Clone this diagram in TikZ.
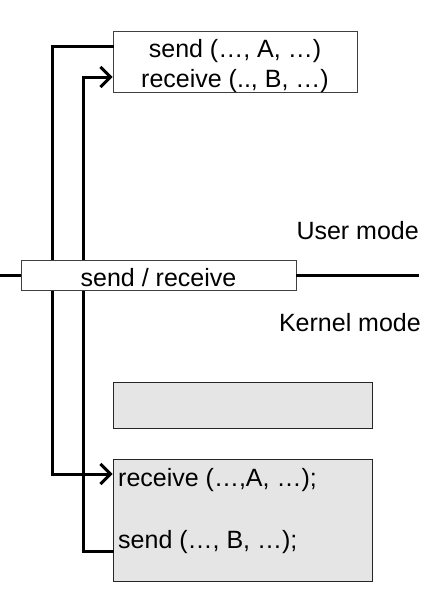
\documentclass[tikz,border=0pt]{standalone}
\usepackage{fontspec}
\setmainfont{Liberation Sans}
\usetikzlibrary{arrows.meta}
\begin{document}
\begin{tikzpicture}[
	x=1pt, y=-1pt,
	every node/.style={font=\fontsize{25}{30}\selectfont, inner sep=0pt},
	userbox/.style={shape=rectangle, fill=white, draw=black!75, line width=0.8pt},
	kernelbox/.style={shape=rectangle, fill=black!10, draw=black!85, line width=0.8pt},
	flow/.style={line width=3pt, line cap=rect},
	tip/.style={-{Straight Barb[length=10pt, width=20pt, line width=3pt]}},
]
\useasboundingbox (0,0) rectangle (439,611);
% boxes
\node[userbox, minimum width=244pt, minimum height=61pt] (topbox) at (235,61.5) {};
\node (sendU) at (235,51) {send (\dots, A, \dots)};
\node (recvU) at (235,81) {receive (.., B, \dots)};
\node[kernelbox, minimum width=259pt, minimum height=46pt] (kbox1) at (242.5,405) {};
\node[kernelbox, minimum width=259pt, minimum height=122pt] (kbox2) at (242.5,520) {};
\node[anchor=west] (recvK) at (118,480) {receive (\dots,A, \dots);};
\node[anchor=west] (sendK) at (118,542) {send (\dots, B, \dots);};
\node[anchor=east] (user) at (419,231) {User mode};
\node[anchor=east] (kernel) at (421,323) {Kernel mode};
% message paths
\draw[flow, tip] (topbox.west |- 0,46) -- (52,46) |- (kbox2.west |- 0,474);
\draw[flow, tip] (kbox2.west |- 0,551) -- (83,551) |- (topbox.west |- 0,77);
% mode boundary
\node[userbox, minimum width=275pt, minimum height=30pt] (mid) at (158.5,275) {};
\node (sr) at (158.5,278) {send / receive};
\coordinate (lend) at (0,275);
\coordinate (rend) at (419,275);
\draw[flow, line cap=butt] (lend) -- (mid.west);
\draw[flow, line cap=butt] (mid.east) -- (rend);
\end{tikzpicture}
\end{document}
